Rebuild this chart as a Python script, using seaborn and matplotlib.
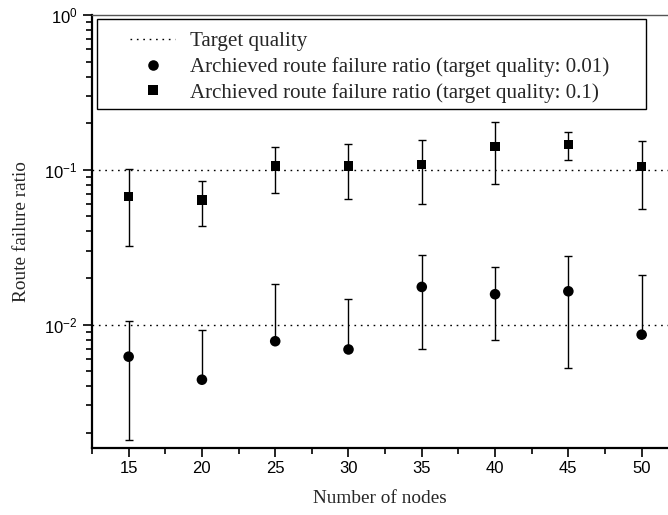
import matplotlib
matplotlib.use("Agg")
import matplotlib.pyplot as plt
from matplotlib.lines import Line2D
from matplotlib.patches import Rectangle
from matplotlib.ticker import LogLocator, NullFormatter, MultipleLocator, FixedLocator, FixedFormatter
import numpy as np
import pandas as pd
import seaborn as sns

# Number of nodes in the network
nodes = [15, 20, 25, 30, 35, 40, 45, 50]

# Achieved route failure ratio (mean) and standard deviation, target quality 0.01
ratio_q001 = [0.0062, 0.0044, 0.0078, 0.0069, 0.0175, 0.0157, 0.0164, 0.0086]
sd_q001 = [0.0044, 0.0048, 0.0104, 0.0078, 0.0106, 0.0078, 0.0112, 0.0123]

# Achieved route failure ratio (mean) and standard deviation, target quality 0.1
ratio_q01 = [0.0669, 0.0637, 0.1057, 0.1057, 0.1084, 0.1417, 0.1460, 0.1046]
sd_q01 = [0.0346, 0.0204, 0.0352, 0.0408, 0.0480, 0.0605, 0.0296, 0.0490]

# Target quality levels
target_quality = [0.1, 0.01]

legend_labels = [
    "Target quality",
    "Archieved route failure ratio (target quality: 0.01)",
    "Archieved route failure ratio (target quality: 0.1)",
]

sns.set_style("ticks")
plt.rcParams["font.family"] = ["Liberation Serif", "DejaVu Serif"]
plt.rcParams["mathtext.fontset"] = "custom"
plt.rcParams["mathtext.rm"] = "Liberation Sans"
plt.rcParams["mathtext.it"] = "Liberation Sans:italic"
plt.rcParams["mathtext.default"] = "regular"

W, H = 668, 515
fig = plt.figure(figsize=(W / 100, H / 100), dpi=100)
ax_left, ax_top, ax_bottom, ax_right = 92, 15, 447.7, 668
ax = fig.add_axes([ax_left / W, 1 - ax_bottom / H,
                   (ax_right - ax_left) / W, (ax_bottom - ax_top) / H])

df = pd.DataFrame({
    "nodes": nodes * 2,
    "ratio": ratio_q001 + ratio_q01,
    "sd": sd_q001 + sd_q01,
    "series": ["q001"] * len(nodes) + ["q01"] * len(nodes),
})

# Reference lines for the target qualities
for tq in target_quality:
    ax.axhline(tq, color="black", lw=1.0, ls=(0, (1.2, 3.4)), zorder=1)

# Error bars: the lower whisker is dropped where mean - sd is not positive (log axis)
for key in ["q001", "q01"]:
    sub = df[df["series"] == key]
    y = sub["ratio"].to_numpy()
    sd = sub["sd"].to_numpy()
    lower = np.where(y - sd > 0, sd, 0.0)
    ax.errorbar(sub["nodes"], y, yerr=[lower, sd], fmt="none", ecolor="black",
                elinewidth=1.0, capsize=3.2, capthick=1.0, zorder=2)

sns.scatterplot(data=df[df["series"] == "q001"], x="nodes", y="ratio", marker="o",
                s=58, color="black", edgecolor="none", linewidth=0, ax=ax, zorder=3,
                legend=False)
sns.scatterplot(data=df[df["series"] == "q01"], x="nodes", y="ratio", marker="s",
                s=44, color="black", edgecolor="none", linewidth=0, ax=ax, zorder=3,
                legend=False)

ax.set_yscale("log")
ax.set_ylim(0.0016, 1)
ax.set_xlim(12.5, 12.5 + (ax_right - ax_left) / 14.657)

ax.xaxis.set_major_locator(MultipleLocator(5))
ax.xaxis.set_minor_locator(MultipleLocator(2.5))
ax.yaxis.set_major_locator(FixedLocator([1, 0.1, 0.01]))
ax.yaxis.set_major_formatter(FixedFormatter([r"$10^{0}$", r"$10^{-1}$", r"$10^{-2}$"]))
ax.yaxis.set_minor_locator(LogLocator(base=10, subs=np.arange(2, 10), numticks=20))
ax.yaxis.set_minor_formatter(NullFormatter())

ax.tick_params(axis="both", which="major", direction="out", length=6.5, width=1.2,
               labelsize=12, labelfontfamily="Liberation Sans", color="black",
               labelcolor="black")
ax.tick_params(axis="x", which="major", pad=3.2)
ax.tick_params(axis="y", which="major", pad=4.0)
ax.tick_params(axis="both", which="minor", direction="out", length=4.0, width=1.2,
               color="black")
ax.tick_params(top=False, right=False, which="both")

for side in ["left", "bottom"]:
    ax.spines[side].set_linewidth(1.6)
    ax.spines[side].set_color("black")
ax.spines["top"].set_linewidth(1.0)
ax.spines["top"].set_color("#555555")
ax.spines["right"].set_visible(False)

ax.set_xlabel("Number of nodes", fontsize=13.9)
ax.set_ylabel("Route failure ratio", fontsize=13.9)
ax.xaxis.set_label_coords(0.5, -(490.4 - ax_bottom) / (ax_bottom - ax_top))
ax.yaxis.set_label_coords((30 - ax_left) / (ax_right - ax_left), 0.5)

# Legend with a separate frame
handles = [
    Line2D([], [], color="black", lw=1.0, ls=(0, (1.2, 3.4))),
    Line2D([], [], color="black", marker="o", ls="none", markersize=7.6, markeredgewidth=0),
    Line2D([], [], color="black", marker="s", ls="none", markersize=6.6, markeredgewidth=0),
]
fig.legend(handles, legend_labels, loc="upper left",
           bbox_to_anchor=(130 / W, 1 - 31.5 / H), frameon=False, fontsize=15.1,
           handlelength=2.15, handletextpad=0.72, labelspacing=0.28, borderpad=0,
           borderaxespad=0)
fig.add_artist(Rectangle((97.3 / W, 1 - 109 / H), (645.7 - 97.3) / W, (109 - 19) / H,
                         transform=fig.transFigure, fill=False, edgecolor="black",
                         linewidth=1.0, zorder=5))

fig.savefig("out.png", dpi=100)
